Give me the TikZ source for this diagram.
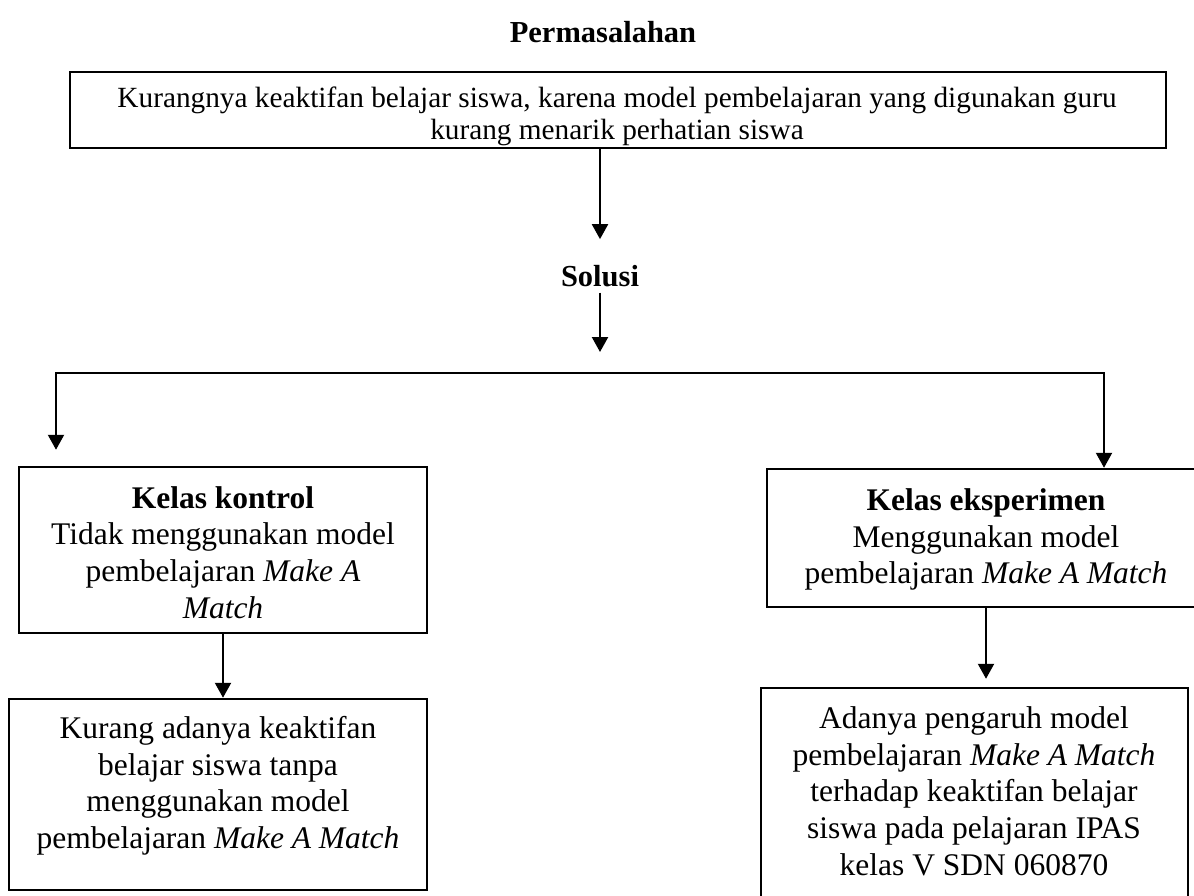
\documentclass[tikz,border=0pt]{standalone}
\usepackage{fontspec}
\setmainfont{Liberation Serif}
\usetikzlibrary{arrows.meta,calc}
\begin{document}
\begin{tikzpicture}[x=1pt,y=-1pt,
  box/.style={draw, line width=2.5pt, rectangle, inner sep=0pt},
  body/.style={align=center, inner sep=0pt, font=\fontsize{31.5}{36.7}\selectfont},
  title/.style={inner sep=0pt, font=\fontsize{30.5}{36}\selectfont\bfseries},
  arr/.style={line width=2.2pt, -{Triangle[length=15pt,width=16pt]}},
  ]
\useasboundingbox (0,0) rectangle (1194,895);
\clip (0,0) rectangle (1194,895);

% boxes
\node[box, minimum width=1096pt, minimum height=76pt] (topbox) at (618,110) {};
\node[box, minimum width=408pt, minimum height=166pt] (kontrol) at (223,550) {};
\node[box, minimum width=418pt, minimum height=191pt] (ctrlres) at (218,794.5) {};
\node[box, minimum width=438pt, minimum height=138pt] (eksp) at (986,538) {};
\node[box, minimum width=427pt, minimum height=214pt] (expres) at (974.5,795) {};

% titles
\node[title, anchor=base] (perm) at (603,42) {Permasalahan};
\node[title, anchor=base] (solusi) at (600,286) {Solusi};

% texts
\node[body, font=\fontsize{29.3}{32}\selectfont] (topt) at (617,116.5)
  {Kurangnya keaktifan belajar siswa, karena model pembelajaran yang digunakan guru\\kurang menarik perhatian siswa};
\node[body] (kontrolt) at (223,552.3)
  {\textbf{Kelas kontrol}\\Tidak menggunakan model\\pembelajaran \textit{Make A}\\\textit{Match}};
\node[body] (ctrlrest) at (218,785.7)
  {Kurang adanya keaktifan\\belajar siswa tanpa\\menggunakan model\\pembelajaran \textit{Make A Match}};
\node[body] (ekspt) at (986,539.7)
  {\textbf{Kelas eksperimen}\\Menggunakan model\\pembelajaran \textit{Make A Match}};
\node[body] (exprest) at (974,791)
  {Adanya pengaruh model\\pembelajaran \textit{Make A Match}\\terhadap keaktifan belajar\\siswa pada pelajaran IPAS\\kelas V SDN 060870};

% connectors
\coordinate (split) at (600,373);
\coordinate (bl) at (56,373);
\coordinate (br) at (1104,373);
\draw[arr, shorten >=25.5pt] (topbox.south -| solusi) -- (solusi.north);
\draw[arr, shorten <=6pt, shorten >=21pt] (solusi.south) -- (split);
\draw[arr, shorten >=16pt] (split) -- (bl) -- (bl |- kontrol.north);
\draw[arr] (split) -- (br) -- (br |- eksp.north);
\draw[arr] (kontrol.south) -- (kontrol.south |- ctrlres.north);
\draw[arr, shorten >=8pt] (eksp.south) -- (eksp.south |- expres.north);
\end{tikzpicture}
\end{document}
